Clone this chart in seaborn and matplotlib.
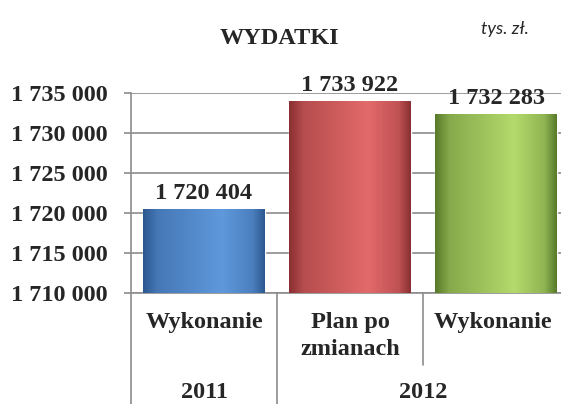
import numpy as np
import pandas as pd
import matplotlib
matplotlib.use('Agg')
import matplotlib.pyplot as plt
import matplotlib.colors as mcolors
from matplotlib.ticker import FuncFormatter
import seaborn as sns

# data
categories = ['Wykonanie', 'Plan po\nzmianach', 'Wykonanie ']
values = [1720404, 1733922, 1732283]
years = ['2011', '2012']
year_spans = [[0], [1, 2]]
y_ticks = [1710000, 1715000, 1720000, 1725000, 1730000, 1735000]

# bar colours (edge shade, highlight)
dark_colors = ['#2c5890', '#8a2f33', '#587a2a']
light_colors = ['#5f99dc', '#e36a6a', '#b4da6c']

FS = 17.5

sns.set_style('white')
plt.rcParams['font.family'] = ['Liberation Serif', 'DejaVu Serif']
plt.rcParams['font.weight'] = 'bold'


def fmt(v):
    return f'{v:,.0f}'.replace(',', ' ')


def mix(c1, c2, t):
    return mcolors.to_hex(np.array(mcolors.to_rgb(c1)) * (1 - t) + np.array(mcolors.to_rgb(c2)) * t)


df = pd.DataFrame({'category': categories, 'value': values})

fig = plt.figure(figsize=(5.61, 4.04), dpi=100)
ax = fig.add_axes([131 / 561, 111 / 404, 430 / 561, 200 / 404])

sns.barplot(data=df, x='category', y='value', hue='category', palette=light_colors,
            width=0.83, legend=False, ax=ax, zorder=2)

# cylinder-like horizontal gradient on each bar (only the visible part)
bars = [c.patches[0] for c in ax.containers]
for patch, dk, lt in zip(bars, dark_colors, light_colors):
    x0, w = patch.get_x(), patch.get_width()
    top = patch.get_y() + patch.get_height()
    cmap = mcolors.LinearSegmentedColormap.from_list(
        'cyl', [(0, dk), (0.12, mix(dk, lt, 0.5)), (0.65, lt), (0.9, mix(dk, lt, 0.6)), (1, dk)])
    grad = np.linspace(0, 1, 256).reshape(1, -1)
    ax.imshow(grad, cmap=cmap, extent=[x0, x0 + w, y_ticks[0], top], aspect='auto', zorder=3)

for c, v in zip(ax.containers, values):
    ax.bar_label(c, labels=[fmt(v)], padding=4, fontsize=FS, fontweight='bold', zorder=5)

ax.set_xlim(-0.5, -0.5 + 430 / 146)
ax.set_ylim(y_ticks[0], y_ticks[-1])
ax.set_yticks(y_ticks)
ax.yaxis.set_major_formatter(FuncFormatter(lambda v, p: fmt(v)))
ax.set_xticks(range(len(categories)), categories, linespacing=1.35, va='top',
              fontsize=FS, fontweight='bold')
ax.grid(axis='y', color='#8c8c8c', lw=1.2, zorder=1)
ax.set_axisbelow(True)
ax.tick_params(axis='y', length=5, width=1.2, color='#8c8c8c', left=True, labelsize=FS, pad=12)
ax.tick_params(axis='x', length=0, pad=14)
for lab in ax.get_yticklabels():
    lab.set_fontweight('bold')
ax.set_xlabel('')
ax.set_ylabel('')
for s in ['top', 'right']:
    ax.spines[s].set_visible(False)
for s in ['left', 'bottom']:
    ax.spines[s].set_color('#8c8c8c')
    ax.spines[s].set_linewidth(1.2)

# category separators and year row
trans = ax.get_xaxis_transform()
ax.plot([-0.5, -0.5], [0, -0.6], color='#8c8c8c', lw=1.2, transform=trans, clip_on=False)
ax.plot([0.5, 0.5], [0, -0.6], color='#8c8c8c', lw=1.2, transform=trans, clip_on=False)
ax.plot([1.5, 1.5], [0, -0.36], color='#8c8c8c', lw=1.2, transform=trans, clip_on=False)
for yr, span in zip(years, year_spans):
    ax.text(np.mean(span), -0.5, yr, transform=trans, ha='center', va='center',
            fontsize=FS, fontweight='bold')

fig.text(279 / 561, 1 - 38 / 404, 'WYDATKI', ha='center', va='center', fontsize=FS, fontweight='bold')
fig.text(505 / 561, 1 - 29 / 404, 'tys. zł.', ha='center', va='center', fontsize=13,
         family=['Lato', 'DejaVu Sans'], style='italic', fontweight='normal')

fig.savefig('out.png', dpi=100)
